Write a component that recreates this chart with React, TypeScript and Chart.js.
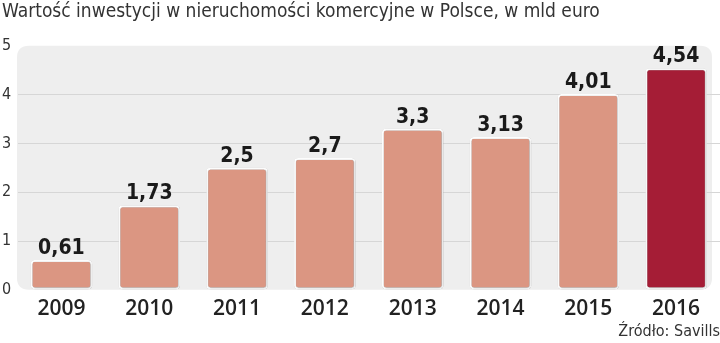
import React, { useEffect, useRef } from "react";
import { Chart, registerables } from "chart.js";

Chart.register(...registerables);

const categories = ["2009", "2010", "2011", "2012", "2013", "2014", "2015", "2016"];
const values = [0.61, 1.73, 2.5, 2.7, 3.3, 3.13, 4.01, 4.54];
const yTicks = [0, 1, 2, 3, 4, 5];
const titleText = "Wartość inwestycji w nieruchomości komercyjne w Polsce, w mld euro";
const sourceText = "Źródło: Savills";

const SALMON = "#DB9682";
const RED = "#A51D36";
const LIGHT_FONT = '"Liberation Sans Narrow", "DejaVu Sans Condensed", sans-serif';
const BOLD_FONT = '"DejaVu Sans Condensed", "Liberation Sans Narrow", sans-serif';

const bgPlugin = {
  id: "bgPlugin",
  beforeDraw(chart: any) {
    const { ctx, chartArea } = chart;
    const l = chartArea.left - 0.5;
    const r = chartArea.right - 8;
    const t = chartArea.top;
    const b = chartArea.bottom;
    const rad = 12;
    ctx.save();
    ctx.fillStyle = "#EEEEEE";
    ctx.beginPath();
    ctx.moveTo(l + rad, t);
    ctx.lineTo(r - rad, t);
    ctx.quadraticCurveTo(r, t, r, t + rad);
    ctx.lineTo(r, b - rad);
    ctx.quadraticCurveTo(r, b, r - rad, b);
    ctx.lineTo(l + rad, b);
    ctx.quadraticCurveTo(l, b, l, b - rad);
    ctx.lineTo(l, t + rad);
    ctx.quadraticCurveTo(l, t, l + rad, t);
    ctx.closePath();
    ctx.fill();
    ctx.restore();
  },
  beforeDatasetDraw(chart: any) {
    const ctx = chart.ctx;
    ctx.save();
    ctx.shadowColor = "rgba(0,0,0,0.35)";
    ctx.shadowBlur = 2;
    ctx.shadowOffsetX = 0.5;
    ctx.shadowOffsetY = 0.5;
  },
  afterDatasetDraw(chart: any) {
    chart.ctx.restore();
  },
  afterDatasetsDraw(chart: any) {
    const { ctx } = chart;
    const meta = chart.getDatasetMeta(0);
    ctx.save();
    ctx.fillStyle = "#1a1a1a";
    ctx.font = `bold 21px ${BOLD_FONT}`;
    ctx.textAlign = "center";
    ctx.textBaseline = "alphabetic";
    meta.data.forEach((bar: any, i: number) => {
      const label = String(values[i]).replace(".", ",");
      ctx.fillText(label, bar.x, bar.y - 6);
    });
    ctx.restore();
  },
};

export default function App() {
  const ref = useRef<HTMLCanvasElement | null>(null);
  useEffect(() => {
    document.body.style.margin = "0";
    const canvas = ref.current!;
    const chart = new Chart(canvas, {
      type: "bar",
      data: {
        labels: categories,
        datasets: [
          {
            data: values,
            backgroundColor: values.map((_, i) => (i === values.length - 1 ? RED : SALMON)),
            borderColor: "#FFFFFF",
            borderWidth: 2,
            borderRadius: 4,
            borderSkipped: false,
            categoryPercentage: 1,
            barPercentage: 0.7,
          },
        ],
      },
      options: {
        animation: false,
        responsive: false,
        devicePixelRatio: 1,
        layout: { padding: { left: 2, right: 0, top: 0, bottom: 0 } },
        plugins: {
          legend: { display: false },
          tooltip: { enabled: false },
          title: {
            display: true,
            text: titleText,
            align: "start",
            color: "#333333",
            font: { family: LIGHT_FONT, size: 19, weight: "normal" },
            padding: { top: 1, bottom: 22 },
          },
          subtitle: {
            display: true,
            text: sourceText,
            position: "bottom",
            align: "end",
            color: "#333333",
            font: { family: LIGHT_FONT, size: 16, weight: "normal" },
            padding: { top: 2, bottom: 2 },
          },
        },
        scales: {
          x: {
            grid: { display: false, drawTicks: false },
            border: { display: false },
            ticks: {
              color: "#222222",
              font: { family: '"Open Sans", sans-serif', size: 21, weight: 600 },
              padding: 7,
            },
            afterFit(scale: any) {
              scale.height = 30;
            },
          },
          y: {
            min: 0,
            max: 5,
            afterBuildTicks(scale: any) {
              scale.ticks = yTicks.map((v) => ({ value: v }));
            },
            grid: {
              drawTicks: false,
              color: (c: any) => (c.tick && (c.tick.value === 0 || c.tick.value === 5) ? "rgba(0,0,0,0)" : "#D6D6D6"),
              lineWidth: 1,
            },
            border: { display: false },
            ticks: {
              color: "#333333",
              crossAlign: "far",
              padding: 0,
              font: { family: LIGHT_FONT, size: 16, weight: "normal" },
            },
            afterFit(scale: any) {
              scale.width = 15.5;
            },
          },
        },
      },
      plugins: [bgPlugin],
    } as any);
    return () => chart.destroy();
  }, []);
  return (
    <div style={{ position: "fixed", left: 0, top: 0, width: 720, height: 343, background: "#fff" }}>
      <canvas ref={ref} width={720} height={343} />
    </div>
  );
}
